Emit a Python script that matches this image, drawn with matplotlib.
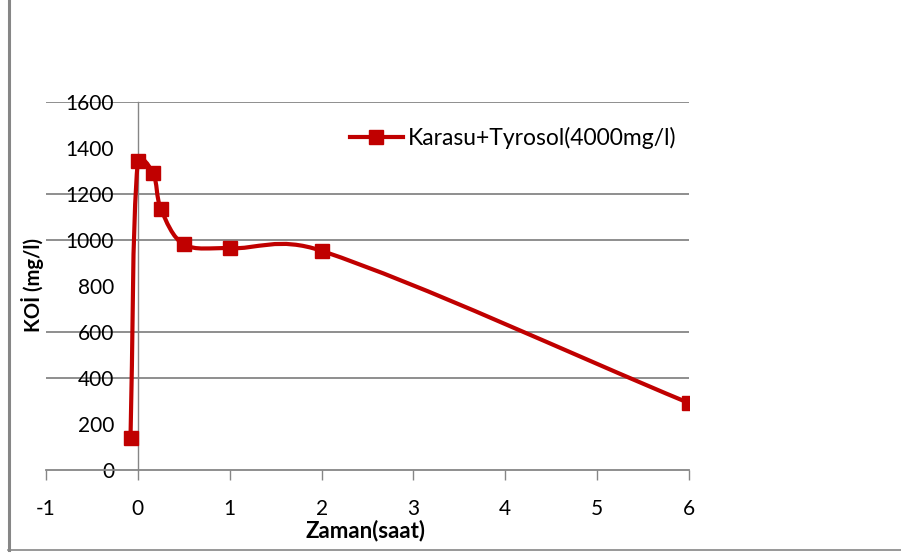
import matplotlib
matplotlib.use("Agg")
import matplotlib.pyplot as plt
import numpy as np
from matplotlib.path import Path
from matplotlib.patches import PathPatch
from matplotlib.lines import Line2D

# KOİ measurements over time
zaman = [-0.08, 0.0, 0.167, 0.25, 0.5, 1.0, 2.0, 6.0]
koi = [140, 1345, 1290, 1136, 981, 964, 953, 291]
series_name = "Karasu+Tyrosol(4000mg/l)"

x_ticks = [-1, 0, 1, 2, 3, 4, 5, 6]
y_ticks = [0, 200, 400, 600, 800, 1000, 1200, 1400, 1600]
grid_levels = [400, 600, 1000, 1200, 1600]

RED = "#C00000"
GRAY = "#868686"

plt.rcParams["font.family"] = ["Lato", "DejaVu Sans"]


def smooth_path(xs, ys, sx, sy, cap=0.5):
    """Bezier smoothing through the points, worked out in pixel units."""
    p = np.column_stack([np.array(xs) * sx, np.array(ys) * sy])
    n = len(p)
    verts = [p[0] / [sx, sy]]
    codes = [Path.MOVETO]

    def ctrl(i, forward):
        prev = p[max(i - 1, 0)]
        nxt = p[min(i + 1, n - 1)]
        d = nxt - prev
        seg_m = np.hypot(*(p[i] - prev))
        seg_p = np.hypot(*(nxt - p[i]))
        lm, lp = np.sqrt(seg_m), np.sqrt(seg_p)
        if lm + lp == 0:
            return p[i]
        if forward:
            v = d * (lp / (lm + lp)) / 3.0
            seg = seg_p
        else:
            v = -d * (lm / (lm + lp)) / 3.0
            seg = seg_m
        # keep the handle short next to a short segment
        vlen = np.hypot(*v)
        if vlen > cap * seg and vlen > 0:
            v = v * cap * seg / vlen
        return p[i] + v

    for i in range(n - 1):
        c1 = ctrl(i, True)
        c2 = ctrl(i + 1, False)
        for v in (c1, c2, p[i + 1]):
            verts.append(v / [sx, sy])
            codes.append(Path.CURVE4)
    return Path(verts, codes)


fig = plt.figure(figsize=(9.01, 5.53), dpi=100)
ax = fig.add_axes([46 / 901, 83 / 553, 643 / 901, 368 / 553])
ax.set_xlim(-1, 6)
ax.set_ylim(0, 1600)

# pixels per data unit, for the smoothing
sx = 643 / 7
sy = 368 / 1600

for lvl in grid_levels:
    ax.axhline(lvl, color=GRAY, lw=1.3, zorder=1)

path = smooth_path(zaman, koi, sx, sy)
ax.add_patch(PathPatch(path, facecolor="none", edgecolor=RED, lw=3.0,
                       capstyle="round", joinstyle="round", zorder=3))
ax.plot(zaman, koi, ls="none", marker="s", ms=10, color=RED, zorder=4)

for side in ["top", "right"]:
    ax.spines[side].set_visible(False)
ax.spines["left"].set_position(("data", 0))
ax.spines["left"].set_color(GRAY)
ax.spines["left"].set_linewidth(1.0)
ax.spines["bottom"].set_color(GRAY)
ax.spines["bottom"].set_linewidth(1.3)

ax.set_xticks(x_ticks)
ax.set_xticklabels([str(t) for t in x_ticks])
ax.set_yticks(y_ticks)
ax.set_yticklabels([str(t) for t in y_ticks])
ax.tick_params(axis="x", direction="out", length=7, width=1.0, color=GRAY,
               pad=14, labelsize=15)
ax.tick_params(axis="y", length=0, pad=17, labelsize=15)

fig.text(366 / 901, 1 - 531 / 553, "Zaman(saat)", ha="center", va="center",
         fontsize=16, fontweight="bold")
fig.text(32 / 901, 1 - 285 / 553, "KOİ (mg/l)", ha="center", va="center",
         rotation=90, fontsize=14.5, fontweight="bold")

handle = Line2D([], [], color=RED, lw=3.0, marker="s", ms=10)
fig.legend([handle], [series_name], loc="center left",
           bbox_to_anchor=(350 / 901, 1 - 138 / 553), frameon=False,
           fontsize=16.5, handlelength=2.3, handletextpad=0.22,
           borderpad=0, borderaxespad=0)

# chart border pieces on the left and bottom
fig.add_artist(Line2D([8.5 / 901, 8.5 / 901], [3 / 553, 1], color=GRAY,
                      lw=2.2, transform=fig.transFigure))
fig.add_artist(Line2D([8 / 901, 1], [3 / 553, 3 / 553], color=GRAY,
                      lw=1.2, transform=fig.transFigure))

fig.savefig("out.png", dpi=100)
